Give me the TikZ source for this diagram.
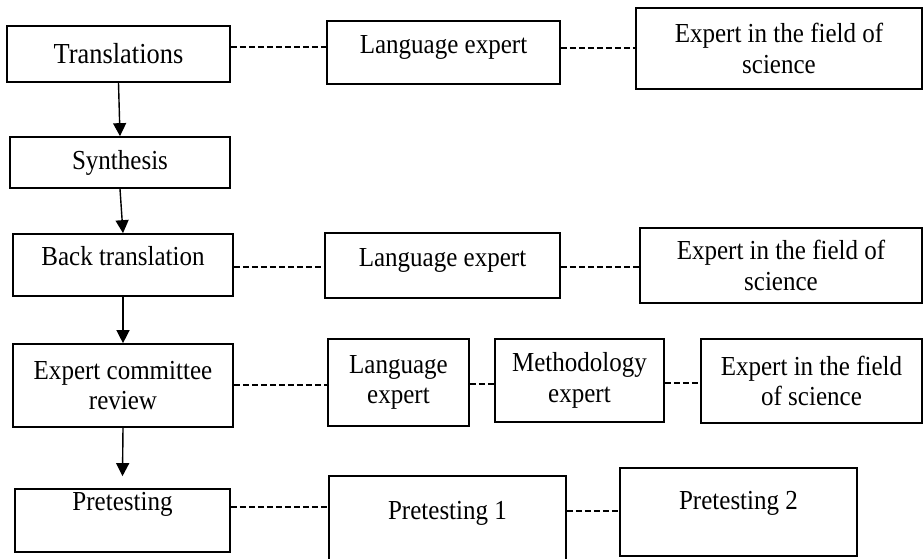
\documentclass[tikz,border=0pt]{standalone}
\usepackage{fontspec}
\setmainfont{Liberation Serif}[FakeStretch=0.91]
\usetikzlibrary{arrows.meta}
\begin{document}
\begin{tikzpicture}[x=1pt,y=-1pt,
  box/.style={draw, line width=1.7pt, inner sep=0pt, align=center,
    font=\fontsize{27.5}{30.5}\selectfont},
  up/.style={text height=17pt, text depth=#1},
  dashlink/.style={line width=1.7pt, dash pattern=on 6pt off 3pt},
  flow/.style={line width=1.4pt, -{Triangle[width=13pt,length=13pt]}}]
\useasboundingbox (0,0) rectangle (924,558);
\clip (0,0) rectangle (924,558);
% column 1
\node[box, minimum width=223pt, minimum height=56pt, font=\fontsize{29}{30}\selectfont] (tr) at (118.5,54) {Translations};
\node[box, minimum width=220pt, minimum height=51pt] (sy) at (120,162.5) {Synthesis};
\node[box, minimum width=220pt, minimum height=62pt, up=15.5pt] (bt) at (123,265) {Back translation};
\node[box, minimum width=220pt, minimum height=83pt] (ec) at (123,385.5) {Expert committee\\review};
\node[box, minimum width=215pt, minimum height=63pt, up=37.5pt] (pt) at (122.5,520.5) {Pretesting};
% row 1
\node[box, minimum width=233pt, minimum height=63pt, up=15.5pt] (le1) at (443.5,52.5) {Language expert};
\node[box, minimum width=286pt, minimum height=81pt] (ef1) at (779,48.5) {Expert in the field of\\science};
% row 3
\node[box, minimum width=235pt, minimum height=65pt, up=15.5pt] (le2) at (442.5,265.5) {Language expert};
\node[box, minimum width=282pt, minimum height=75pt] (ef2) at (781,265.5) {Expert in the field of\\science};
% row 4
\node[box, minimum width=141pt, minimum height=87pt] (le3) at (398.5,382.5) {Language\\expert};
\node[box, minimum width=169pt, minimum height=83pt] (me) at (579.5,380.5) {Methodology\\expert};
\node[box, minimum width=221pt, minimum height=84pt] (ef3) at (811.5,381) {Expert in the field\\of science};
% row 5
\node[box, minimum width=237pt, minimum height=99pt, up=29.5pt] (p1) at (447.5,525.5) {Pretesting 1};
\node[box, minimum width=237pt, minimum height=88pt, up=21.5pt] (p2) at (738.5,512) {Pretesting 2};
% arrows
\draw[flow] (tr.south) -- (sy.north);
\draw[flow] (sy.south) -- (bt.north);
\draw[flow] (bt.south) -- (ec.north);
\draw[flow] (ec.south) -- ([yshift=12pt]pt.north);
% dashed links
\draw[dashlink] ([yshift=7pt]tr.east) -- ([yshift=7pt]tr.east -| le1.west);
\draw[dashlink] ([yshift=4.5pt]le1.east) -- ([yshift=4.5pt]le1.east -| ef1.west);
\draw[dashlink] ([yshift=-2pt]bt.east) -- ([yshift=-2pt]bt.east -| le2.west);
\draw[dashlink] ([yshift=-1.5pt]le2.east) -- ([yshift=-1.5pt]le2.east -| ef2.west);
\draw[dashlink] ([yshift=0.5pt]ec.east) -- ([yshift=0.5pt]ec.east -| le3.west);
\draw[dashlink] ([yshift=-1.5pt]le3.east) -- ([yshift=-1.5pt]le3.east -| me.west);
\draw[dashlink] ([yshift=-2.5pt]me.east) -- ([yshift=-2.5pt]me.east -| ef3.west);
\draw[dashlink] ([yshift=13.5pt]pt.east) -- ([yshift=13.5pt]pt.east -| p1.west);
\draw[dashlink] ([yshift=14.5pt]p1.east) -- ([yshift=14.5pt]p1.east -| p2.west);
\end{tikzpicture}
\end{document}
